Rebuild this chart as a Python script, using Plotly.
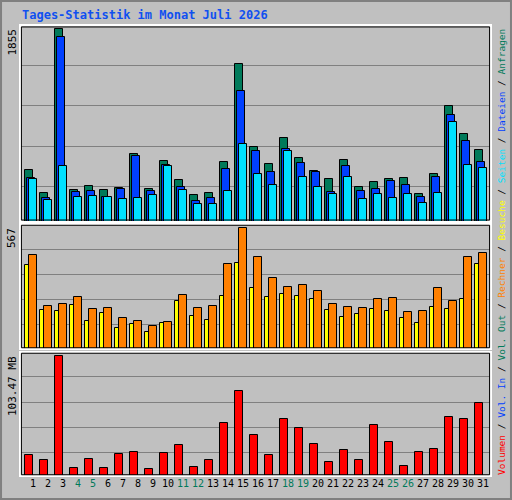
import plotly.graph_objects as go

days = list(range(1, 32))
weekend = [4, 5, 11, 12, 18, 19, 25, 26]

anfragen = [502, 278, 1852, 308, 346, 308, 327, 657, 317, 589, 405, 259, 278, 579, 1521, 725,
            560, 812, 618, 492, 414, 599, 337, 385, 414, 424, 269, 463, 1114, 842, 696]
dateien = [427, 230, 1774, 288, 298, 240, 317, 638, 298, 550, 337, 201, 230, 511, 1259, 686,
           482, 706, 570, 482, 288, 541, 298, 317, 395, 356, 240, 434, 1026, 783, 579]
seiten = [414, 210, 541, 240, 249, 237, 220, 230, 259, 541, 308, 172, 172, 298, 754, 463,
          356, 686, 434, 337, 269, 434, 220, 269, 230, 269, 181, 278, 958, 550, 521]
besuche = [392, 184, 180, 208, 132, 170, 99, 118, 80, 123, 227, 156, 137, 250, 402, 288,
           246, 260, 250, 236, 184, 151, 165, 189, 180, 146, 123, 198, 189, 236, 397]
rechner = [439, 203, 213, 246, 189, 194, 146, 132, 109, 128, 255, 194, 203, 397, 567, 430,
           335, 293, 302, 274, 213, 198, 194, 236, 241, 175, 180, 284, 227, 430, 449]
volumen = [18.5, 13.6, 103.47, 7.2, 15.0, 7.2, 19.4, 21.1, 6.4, 20.2, 26.3, 8.1, 14.2, 45.4, 73.1, 35.0,
           18.5, 48.8, 41.0, 27.2, 12.4, 22.8, 14.2, 43.6, 28.9, 9.0, 21.1, 23.7, 50.6, 48.8, 62.7]

GREEN = "#007a5a"
BLUE = "#0040ff"
CYAN = "#00e0ff"
YELLOW = "#ffff00"
ORANGE = "#ff8000"
RED = "#ff0000"
MONO = "DejaVu Sans Mono"

fig = go.Figure()

def bars(y, color, off, ax):
    fig.add_trace(go.Bar(x=days, y=y, offset=off, width=0.53, marker_color=color,
                         marker_line=dict(color="black", width=1),
                         xaxis="x" + ax, yaxis="y" + ax))

bars(anfragen, GREEN, -0.53, "")
bars(dateien, BLUE, -0.4, "")
bars(seiten, CYAN, -0.27, "")
bars(besuche, YELLOW, -0.53, "2")
bars(rechner, ORANGE, -0.27, "2")
bars(volumen, RED, -0.53, "3")

xr = [0.13, 31.53]
ticktext = ["<span style='color:%s'>%d</span>" % (GREEN if d in weekend else "black", d) for d in days]
xbase = dict(range=xr, domain=[20 / 512, 491 / 512], showgrid=False, zeroline=False, fixedrange=True)
ybase = dict(showticklabels=False, ticks="", gridcolor="#808080", gridwidth=1, zeroline=False)

fig.update_layout(
    width=512, height=500, margin=dict(l=0, r=0, t=0, b=0),
    paper_bgcolor="#c0c0c0", plot_bgcolor="#c0c0c0",
    barmode="overlay", bargap=0, showlegend=False,
    xaxis=dict(xbase, anchor="y", showticklabels=False),
    xaxis2=dict(xbase, anchor="y2", showticklabels=False),
    xaxis3=dict(xbase, anchor="y3", tickvals=days, ticktext=ticktext, tickangle=0,
                tickfont=dict(family=MONO, size=10, color="black"), ticks="", ticklen=6),
    yaxis=dict(ybase, domain=[1 - 222 / 500, 1 - 25 / 500], range=[0, 1893], tickvals=[340, 728, 1117, 1505]),
    yaxis2=dict(ybase, domain=[1 - 349 / 500, 1 - 224 / 500], range=[0, 586], tickvals=[113, 231, 350, 468]),
    yaxis3=dict(ybase, domain=[1 - 476 / 500, 1 - 352 / 500], range=[0, 106.9], tickvals=[20.3, 42, 63.6, 85.5]),
)

# panel frames
shapes = [dict(type="rect", xref="paper", yref="paper", x0=0.002, y0=0.002, x1=0.998, y1=0.998,
               line=dict(color="#808080", width=2))]
for ya in ["y", "y2", "y3"]:
    shapes.append(dict(type="rect", xref="x domain", yref=ya + " domain", x0=0, x1=1, y0=0, y1=1,
                       line=dict(color="white", width=2)))
    shapes.append(dict(type="rect", xref="x domain", yref=ya + " domain", x0=0.003, x1=0.997, y0=0.01, y1=0.99,
                       line=dict(color="black", width=1)))
fig.update_layout(shapes=shapes)

ann = [
    dict(text="<b>Tages-Statistik im Monat Juli 2026</b>", x=20 / 512, y=1 - 6 / 500, xanchor="left", yanchor="top",
         font=dict(family=MONO, size=12, color="#1050f0")),
    dict(text="1855", x=12 / 512, y=1 - 27 / 500, textangle=-90),
    dict(text="567", x=12 / 512, y=1 - 226 / 500, textangle=-90),
    dict(text="103.47 MB", x=12 / 512, y=1 - 354 / 500, textangle=-90),
]
for a in ann[1:]:
    a.update(xanchor="center", yanchor="top", font=dict(family=MONO, size=11, color="black"))

sep = "<span style='color:black'> / </span>"
parts = [("Volumen", RED), ("Vol. In", BLUE), ("Vol. Out", GREEN), ("Rechner", ORANGE),
         ("Besuche", YELLOW), ("Seiten", CYAN), ("Dateien", BLUE), ("Anfragen", GREEN)]
legend = sep.join("<span style='color:%s'>%s</span>" % (c, t) for t, c in parts)
ann.append(dict(text=legend, x=501 / 512, y=1 - 252 / 500, xanchor="center", yanchor="middle", textangle=-90,
                font=dict(family=MONO, size=9.5, color="black")))
for a in ann:
    a.update(xref="paper", yref="paper", showarrow=False)
fig.update_layout(annotations=ann)

fig.write_html("out.html", config={"displayModeBar": False},
               post_script="document.body.style.margin='0';")
